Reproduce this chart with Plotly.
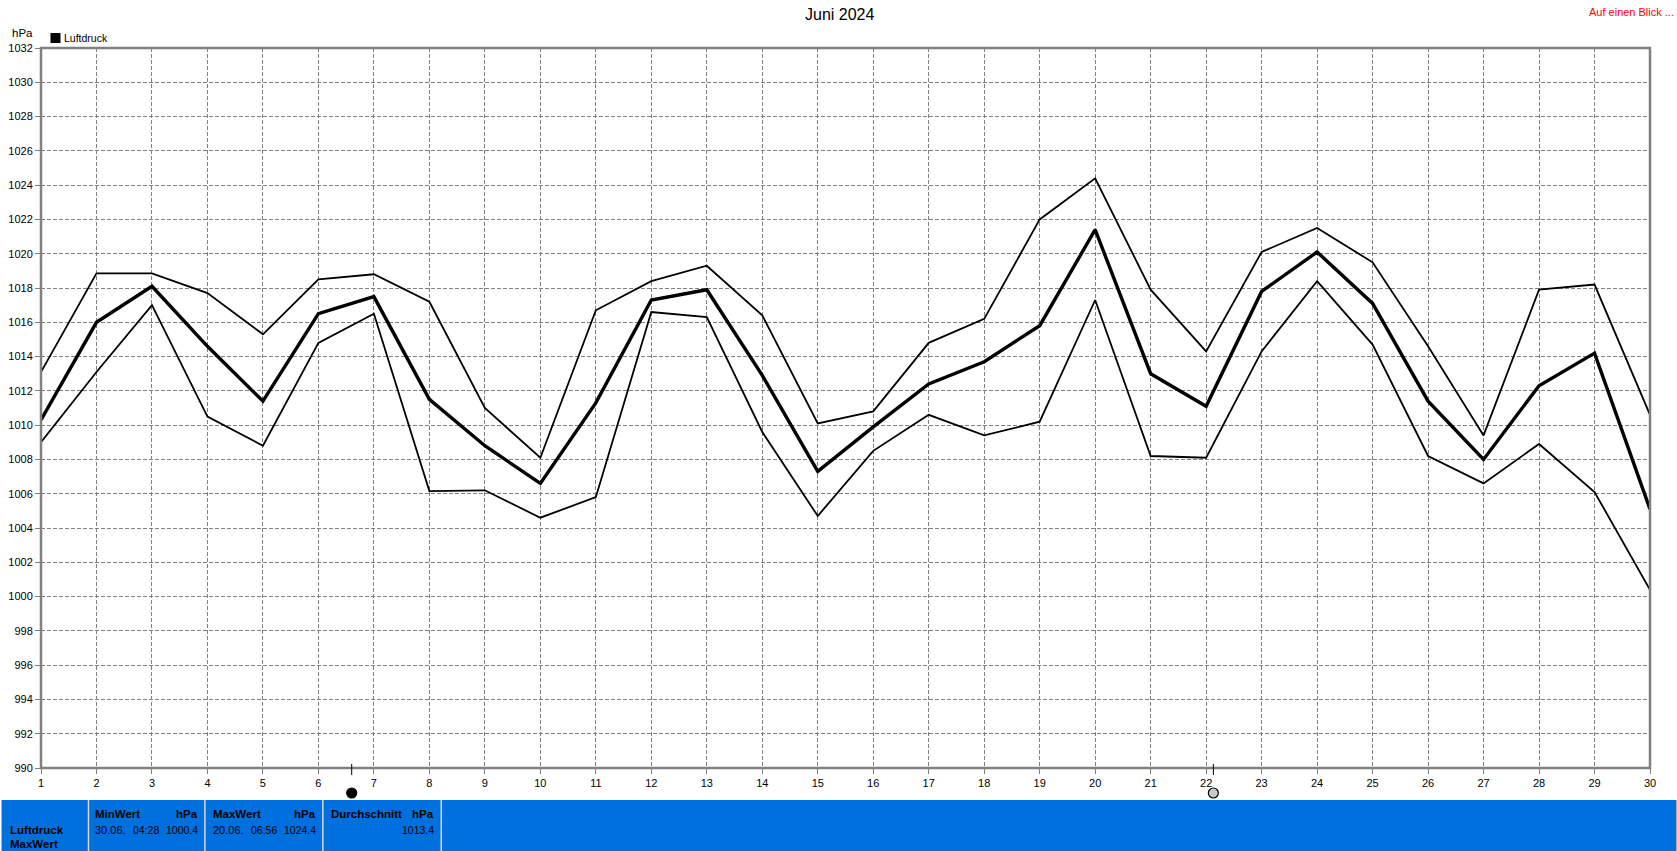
import plotly.graph_objects as go

days = list(range(1, 31))
luftdruck_max = [1013.1, 1018.85, 1018.85, 1017.7, 1015.3, 1018.5, 1018.8, 1017.2, 1011.0, 1008.1,
                 1016.7, 1018.4, 1019.3, 1016.4, 1010.1, 1010.8, 1014.8, 1016.2, 1022.0, 1024.4,
                 1017.9, 1014.3, 1020.1, 1021.5, 1019.5, 1014.6, 1009.4, 1017.9, 1018.2, 1010.6]
luftdruck_mittel = [1010.3, 1016.0, 1018.1, 1014.6, 1011.4, 1016.5, 1017.5, 1011.5, 1008.8, 1006.6,
                    1011.3, 1017.3, 1017.9, 1012.9, 1007.3, 1009.9, 1012.4, 1013.7, 1015.8, 1021.4,
                    1013.0, 1011.1, 1017.8, 1020.1, 1017.1, 1011.4, 1008.0, 1012.3, 1014.2, 1005.1]
luftdruck_min = [1009.0, 1013.1, 1017.0, 1010.5, 1008.8, 1014.8, 1016.5, 1006.15, 1006.2, 1004.6,
                 1005.8, 1016.6, 1016.3, 1009.6, 1004.7, 1008.5, 1010.6, 1009.4, 1010.2, 1017.3,
                 1008.2, 1008.1, 1014.3, 1018.4, 1014.7, 1008.2, 1006.6, 1008.9, 1006.1, 1000.4]
y_ticks = list(range(990, 1033, 2))
moon_days = [6.6, 22.13]
moon_fill = ["black", "#c8c8c8"]

W, H = 1677, 851
L, R, T, B = 40.5, 1650.5, 48, 768
FONT = "Liberation Sans"
GREY = "#808080"
BLUE = "#0070DF"

fig = go.Figure()
for vals, w in ((luftdruck_max, 1.8), (luftdruck_min, 1.8), (luftdruck_mittel, 3.4)):
    fig.add_trace(go.Scatter(x=days, y=vals, mode="lines", line=dict(color="black", width=w),
                             showlegend=False, hoverinfo="skip"))

axis = dict(showline=False, showgrid=True, automargin=False,
            gridcolor=GREY, griddash="4px,2px", gridwidth=1, zeroline=False,
            ticks="outside", ticklen=5, tickcolor=GREY, tickwidth=1,
            tickfont=dict(family=FONT, size=11, color="black"))
fig.update_layout(
    width=W, height=H, autosize=False,
    margin=dict(l=L, r=W - R, t=T, b=H - B, pad=0),
    paper_bgcolor="white", plot_bgcolor="white",
    xaxis=dict(axis, range=[1, 30], tickmode="array", tickvals=days, ticktext=[str(d) for d in days]),
    yaxis=dict(axis, range=[990, 1032], tickmode="array", tickvals=y_ticks, ticktext=[str(v) for v in y_ticks]),
)

def px(x): return (x - L) / (R - L)
def py(y): return 1 - (y - T) / (B - T)

def text(x, y, s, size=12, color="black", anchor="left", bold=False):
    fig.add_annotation(xref="paper", yref="paper", x=px(x), y=py(y), text=f"<b>{s}</b>" if bold else s,
                       showarrow=False, xanchor=anchor, yanchor="middle", borderpad=0, borderwidth=0,
                       font=dict(family=FONT, size=size, color=color))

def rect(x0, y0, x1, y1, color):
    fig.add_shape(type="rect", xref="paper", yref="paper", x0=px(x0), x1=px(x1), y0=py(y0), y1=py(y1),
                  fillcolor=color, line=dict(width=0), layer="above")

# plot frame centred on the plot edge
fig.add_shape(type="rect", xref="paper", yref="paper", x0=0, x1=1, y0=0, y1=1,
              line=dict(color=GREY, width=2.5), layer="above")

# moon phase ticks and symbols under the x axis
for d, fill in zip(moon_days, moon_fill):
    fig.add_shape(type="line", xref="x", yref="paper", x0=d, x1=d, y0=py(764), y1=py(775),
                  line=dict(color="black", width=1))
    fig.add_shape(type="circle", xref="x", yref="paper", xsizemode="pixel", ysizemode="pixel",
                  xanchor=d, yanchor=py(793), x0=-5, x1=5, y0=-5, y1=5,
                  fillcolor=fill, line=dict(color="black", width=1.2))

text(839, 15, "Juni 2024", size=16, anchor="center")
text(1675, 12, "Auf einen Blick ...", size=11, color="red", anchor="right")
text(11, 33, "hPa", size=11.5)
rect(50, 33, 60, 43, "black")
text(64, 38, "Luftdruck", size=10.5)

# bottom panel
rect(1, 800, W, H, BLUE)
for sep in (88, 204.5, 322.5, 441):
    rect(sep - 0.75, 800, sep + 0.75, H, "#d8d8d8")
text(9, 830, "Luftdruck", size=11.5, bold=True)
text(9, 844, "MaxWert", size=11.5, bold=True)
for x0, x1, head, date, clock, value in (
    (95, 198, "MinWert", "30.06.", "04:28", "1000.4"),
    (213, 316, "MaxWert", "20.06.", "06:56", "1024.4"),
):
    text(x0, 814, head, size=11.5, bold=True)
    text(x1, 814, "hPa", size=11.5, bold=True, anchor="right")
    text(x0, 830, date, size=11)
    text(x0 + 38, 830, clock, size=10.5)
    text(x1, 830, value, size=10.5, anchor="right")
text(331, 814, "Durchschnitt", size=11.5, bold=True)
text(434, 814, "hPa", size=11.5, bold=True, anchor="right")
text(434, 830, "1013.4", size=10.5, anchor="right")

fig.write_html("out.html", config=dict(displayModeBar=False),
               post_script="document.body.style.margin='0';document.body.style.overflow='hidden';")
